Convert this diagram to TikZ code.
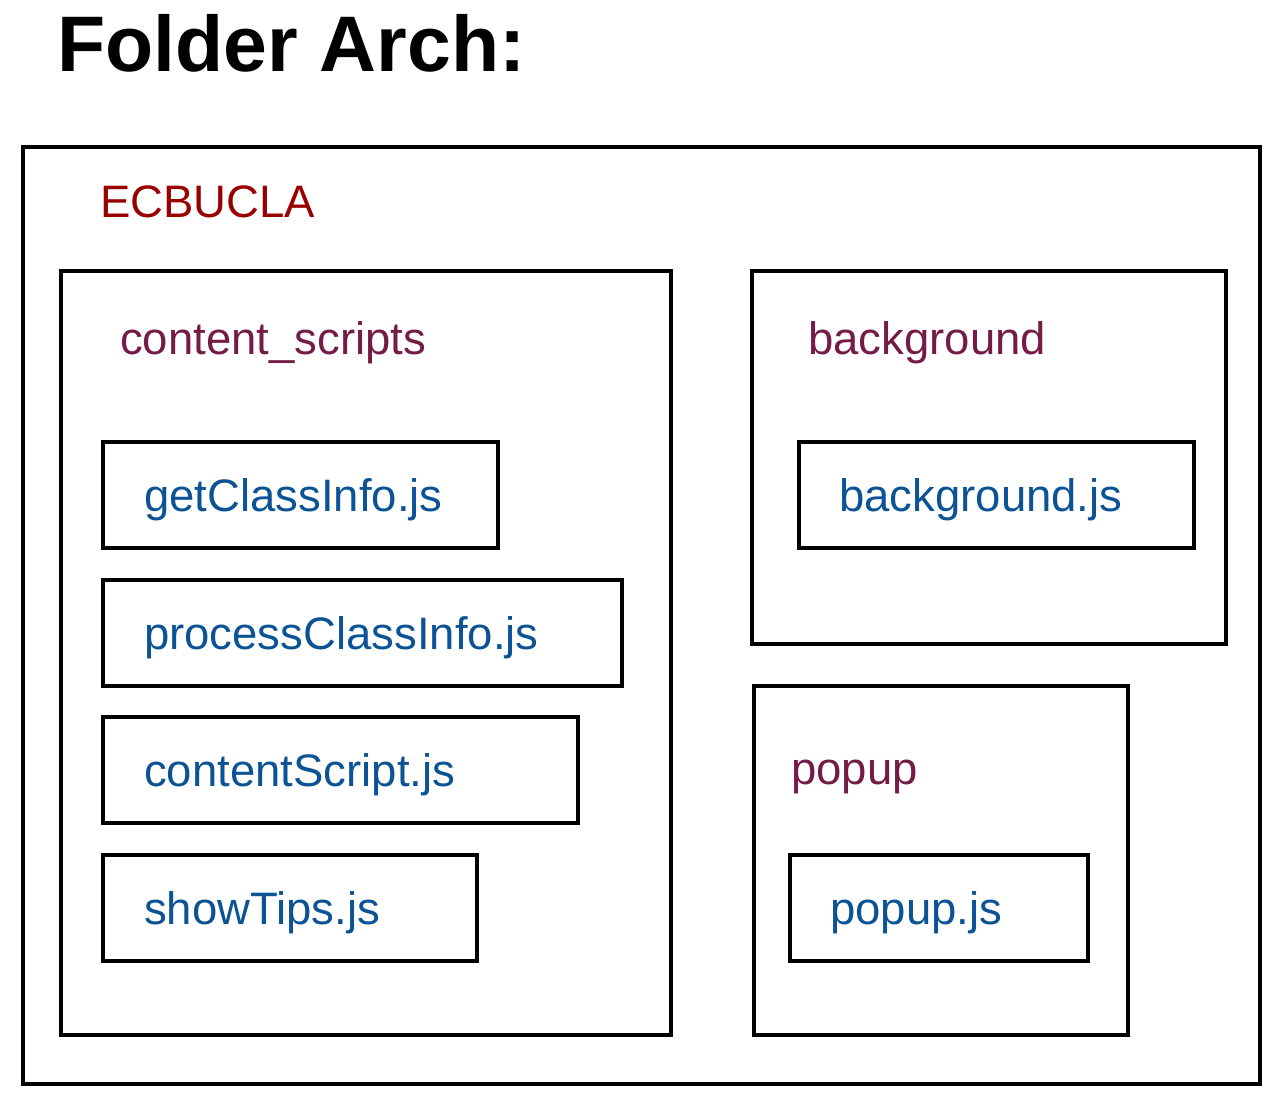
\documentclass[tikz,border=0pt]{standalone}
\usepackage{fontspec}
\setmainfont{Liberation Sans}
\definecolor{rootred}{HTML}{990000}
\definecolor{folderc}{HTML}{741B47}
\definecolor{filec}{HTML}{0B5394}
\tikzset{
  box/.style={draw=black, line width=4pt},
  lbl/.style={anchor=base west, inner sep=0pt, font=\fontsize{45.5}{50}\selectfont},
  rootlbl/.style={lbl, text=rootred},
  folderlbl/.style={lbl, text=folderc},
  filelbl/.style={lbl, text=filec},
}
\begin{document}
\begin{tikzpicture}[x=1pt,y=-1pt]
\useasboundingbox (0,0) rectangle (1268,1096);
\node[anchor=base west, inner sep=0pt, font=\fontsize{78.8}{84}\selectfont\bfseries] (title) at (57,71) {Folder Arch:};
% outer
\draw[box] (23,147) rectangle (1260,1084);
\node[rootlbl] (root) at (100,217) {ECBUCLA};
% content_scripts
\draw[box] (61,271) rectangle (671,1035);
\node[folderlbl] (cs) at (120,354) {content\_scripts};
\draw[box] (103,442) rectangle (498,548);
\node[filelbl] (f1) at (144,511) {getClassInfo.js};
\draw[box] (103,580) rectangle (622,686);
\node[filelbl] (f2) at (144,649) {processClassInfo.js};
\draw[box] (103,717) rectangle (578,823);
\node[filelbl] (f3) at (144,786) {contentScript.js};
\draw[box] (103,855) rectangle (477,961);
\node[filelbl] (f4) at (144,924) {showTips.js};
% background
\draw[box] (752,271) rectangle (1226,644);
\node[folderlbl] (bg) at (808,354) {background};
\draw[box] (799,442) rectangle (1194,548);
\node[filelbl] (f5) at (839,511) {background.js};
% popup
\draw[box] (754,686) rectangle (1128,1035);
\node[folderlbl] (pp) at (791,784) {popup};
\draw[box] (790,855) rectangle (1088,961);
\node[filelbl] (f6) at (830,924) {popup.js};
\end{tikzpicture}
\end{document}
